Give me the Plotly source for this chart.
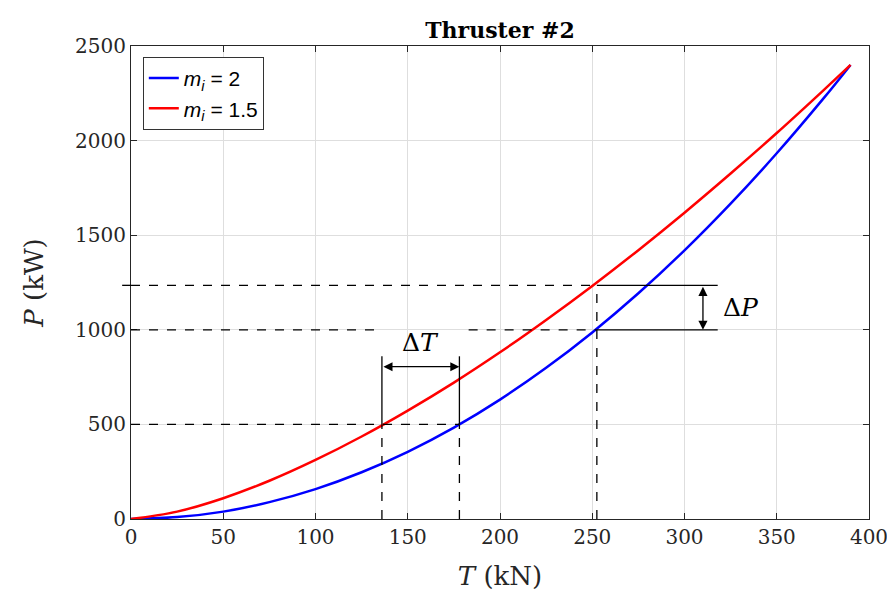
import plotly.graph_objects as go

# thrust (kN) and power (kW)
thrust = [0, 25, 50, 75, 100, 125, 150, 175, 200, 225, 250, 275, 300, 325, 350, 375, 390]
power_m2 = [0, 10, 39, 89, 158, 247, 355, 483, 631, 799, 986, 1193, 1420, 1667, 1933, 2219, 2400]
power_m15 = [0, 39, 110, 202, 312, 436, 573, 721, 881, 1052, 1232, 1421, 1619, 1826, 2040, 2263, 2400]

# guide-line levels
t_low, t_high, t_op = 136, 178, 252.5
p_low, p_mid, p_high = 500, 1000, 1235
t_dim_end = 318
t_arrow_p = 805
t_ext_top = 860
p_arrow_t = 310
gap_t = (134, 183)

SERIF = "DejaVu Serif, serif"
INK = "#000000"
AXIS = "#262626"

fig = go.Figure()
fig.add_trace(go.Scatter(
    x=thrust, y=power_m2, mode="lines", line=dict(color="#0000ff", width=2.5, shape="spline"),
    name="<i>m</i><sub><i>i</i></sub> = 2",
))
fig.add_trace(go.Scatter(
    x=thrust, y=power_m15, mode="lines", line=dict(color="#ff0000", width=2.5, shape="spline"),
    name="<i>m</i><sub><i>i</i></sub> = 1.5",
))

dash = dict(color=INK, width=1.3, dash="dash")
solid = dict(color=INK, width=1.3)
shapes = [
    # horizontal dashed guides
    dict(type="line", xref="x", yref="y", x0=0, x1=t_op, y0=p_high, y1=p_high, line=dash),
    dict(type="line", xref="paper", yref="y", x0=-0.012, x1=0, y0=p_high, y1=p_high, line=dash),
    dict(type="line", xref="x", yref="y", x0=0, x1=gap_t[0], y0=p_mid, y1=p_mid, line=dash),
    dict(type="line", xref="x", yref="y", x0=gap_t[1], x1=t_op, y0=p_mid, y1=p_mid, line=dash),
    dict(type="line", xref="x", yref="y", x0=0, x1=t_high, y0=p_low, y1=p_low, line=dash),
    # vertical dashed guides
    dict(type="line", xref="x", yref="y", x0=t_low, x1=t_low, y0=0, y1=p_low, line=dash),
    dict(type="line", xref="x", yref="y", x0=t_high, x1=t_high, y0=0, y1=p_low, line=dash),
    dict(type="line", xref="x", yref="y", x0=t_op, x1=t_op, y0=0, y1=p_high, line=dash),
    # solid extension lines
    dict(type="line", xref="x", yref="y", x0=t_low, x1=t_low, y0=p_low, y1=t_ext_top, line=solid),
    dict(type="line", xref="x", yref="y", x0=t_high, x1=t_high, y0=p_low, y1=t_ext_top, line=solid),
    dict(type="line", xref="x", yref="y", x0=t_op, x1=t_dim_end, y0=p_high, y1=p_high, line=solid),
    dict(type="line", xref="x", yref="y", x0=t_op, x1=t_dim_end, y0=p_mid, y1=p_mid, line=solid),
]

arrow = dict(
    showarrow=True, arrowhead=2, startarrowhead=2, arrowside="end+start",
    arrowsize=1.4, startarrowsize=1.4, arrowwidth=1.3, arrowcolor=INK,
    axref="x", ayref="y", text="", standoff=0, startstandoff=0,
)
annotations = [
    dict(x=t_high, y=t_arrow_p, ax=t_low, ay=t_arrow_p, xref="x", yref="y", **arrow),
    dict(x=p_arrow_t, y=p_mid, ax=p_arrow_t, ay=p_high, xref="x", yref="y", **arrow),
    dict(x=(t_low + t_high) / 2, y=935, xref="x", yref="y", text="Δ<i>T</i>", showarrow=False,
         font=dict(family=SERIF, size=25, color=INK)),
    dict(x=t_dim_end + 2, y=1118, xref="x", yref="y", text="Δ<i>P</i>", showarrow=False,
         xanchor="left", font=dict(family=SERIF, size=25, color=INK)),
]

# the page body carries an 8px margin, so the plot box is shifted by that much
fig.update_layout(
    width=895,
    height=596,
    margin=dict(l=123, r=34, t=38, b=85),
    paper_bgcolor="#ffffff",
    plot_bgcolor="#ffffff",
    font=dict(family=SERIF, color=AXIS, size=20),
    title=dict(
        text="<b>Thruster #2</b>", x=0.5, xref="paper", xanchor="center",
        y=0.962, yanchor="middle", font=dict(family=SERIF, size=22, color=INK),
    ),
    shapes=shapes,
    annotations=annotations,
    showlegend=True,
    legend=dict(
        x=0.016, y=0.977, xanchor="left", yanchor="top",
        bgcolor="#ffffff", bordercolor="#333333", borderwidth=1,
        font=dict(family="Liberation Sans, sans-serif", size=21, color=INK),
        tracegroupgap=2,
    ),
)
fig.update_xaxes(
    range=[0, 400], tickvals=[0, 50, 100, 150, 200, 250, 300, 350, 400],
    showgrid=True, gridcolor="#dedede", gridwidth=1, zeroline=False,
    showline=True, linecolor=AXIS, linewidth=1, mirror="ticks",
    ticks="inside", ticklen=6, tickcolor=AXIS,
    title=dict(text="<i>T</i> (kN)", font=dict(family=SERIF, size=26, color=AXIS), standoff=18),
)
fig.update_yaxes(
    range=[0, 2500], tickvals=[0, 500, 1000, 1500, 2000, 2500],
    showgrid=True, gridcolor="#dedede", gridwidth=1, zeroline=False,
    showline=True, linecolor=AXIS, linewidth=1, mirror="ticks",
    ticks="inside", ticklen=6, tickcolor=AXIS,
    title=dict(text="<i>P</i> (kW)", font=dict(family=SERIF, size=26, color=AXIS), standoff=23),
)

fig.write_html("out.html")
